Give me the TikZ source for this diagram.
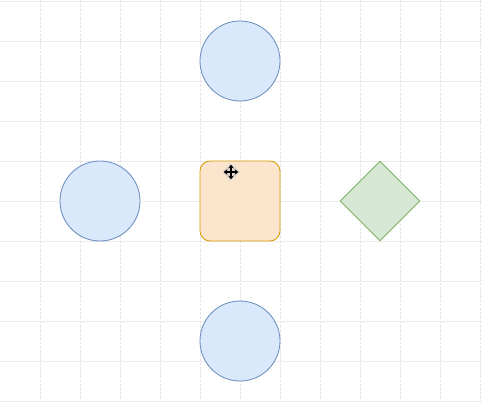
\documentclass[tikz,border=0pt]{standalone}
\usepackage{tikz}
\usetikzlibrary{shapes.geometric, arrows.meta}
\definecolor{ballfill}{HTML}{DAE8FC}
\definecolor{balledge}{HTML}{6C8EBF}
\definecolor{boxfill}{HTML}{FBE5CD}
\definecolor{boxedge}{HTML}{D79B00}
\definecolor{diafill}{HTML}{D5E8D4}
\definecolor{diaedge}{HTML}{82B366}

\begin{document}
\begin{tikzpicture}[x=1cm, y=-1cm,
    blueball/.style={circle, draw=balledge, fill=ballfill, line width=0.6pt, minimum size=2cm, inner sep=0pt},
    orangebox/.style={rectangle, rounded corners=0.25cm, draw=boxedge, fill=boxfill, line width=0.6pt, minimum size=2cm, inner sep=0pt},
    greendia/.style={diamond, aspect=1, draw=diaedge, fill=diafill, line width=0.6pt, minimum size=2cm, inner sep=0pt},
    movetip/.style={black, line width=1.1pt, {Stealth[length=2.5pt,width=4pt]}-{Stealth[length=2.5pt,width=4pt]}}]
    \useasboundingbox (0,-0.025) rectangle (12.05,10.025);
    \fill[white] (0,-0.025) rectangle (12.05,10.025);
    % grid
    \foreach \y in {0,...,10}
      \draw[gray!15, line width=0.5pt] (0,\y) -- (12.05,\y);
    \foreach \x in {1,...,12}
      \draw[gray!20, line width=0.5pt, dash pattern=on 2pt off 1pt] (\x,-0.025) -- (\x,10.025);
    % shapes
    \node[blueball] (top) at (6,1.5) {};
    \node[blueball] (left) at (2.5,5) {};
    \node[orangebox] (mid) at (6,5) {};
    \node[greendia] (right) at (9.5,5) {};
    \node[blueball] (bottom) at (6,8.5) {};
    % move cursor
    \coordinate (cur) at (5.775,4.275);
    \fill[gray!40, opacity=0.6] (cur) ++(0,-0.22) -- ++(0.22,0.22) -- ++(-0.22,0.22) -- ++(-0.22,-0.22) -- cycle;
    \draw[movetip] ([yshift=-0.18cm]cur) -- ([yshift=0.18cm]cur);
    \draw[movetip] ([xshift=-0.18cm]cur) -- ([xshift=0.18cm]cur);
\end{tikzpicture}
\end{document}
